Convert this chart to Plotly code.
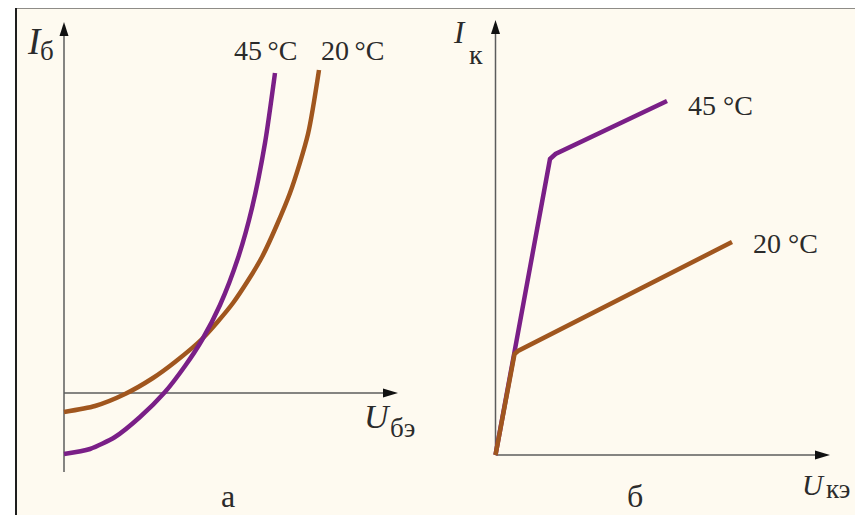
import plotly.graph_objects as go

# ---------------- data ----------------
# Panel "а": input characteristics I_б = f(U_бэ)
u_be_45 = [0, 0.26, 0.51, 0.76, 1.01, 1.21, 1.38, 1.56, 1.74, 1.88, 2.01, 2.11]
i_b_45 = [-0.61, -0.56, -0.44, -0.24, 0.01, 0.27, 0.53, 0.88, 1.35, 1.85, 2.50, 3.20]
u_be_20 = [0, 0.31, 0.61, 0.89, 1.11, 1.38, 1.69, 1.98, 2.26, 2.44, 2.55]
i_b_20 = [-0.19, -0.13, -0.01, 0.15, 0.31, 0.54, 0.90, 1.36, 2.00, 2.59, 3.23]

# Panel "б": output characteristics I_к = f(U_кэ)
u_ce_45 = [0, 0.525, 0.545, 0.60, 1.715]
i_c_45 = [0, 2.88, 2.96, 3.01, 3.54]
u_ce_20 = [0, 0.175, 0.19, 0.225, 2.365]
i_c_20 = [0, 0.97, 1.01, 1.04, 2.13]

temp_labels_a = ["45\u2009°C", "20\u2009°C"]
temp_labels_b = ["45 °C", "20 °C"]
panel_labels = ["а", "б"]

# ---------------- style ----------------
OFF = 8                      # page body margin of the html page
W, H = 863 - OFF, 515 - OFF  # figure size
S = 100.0                    # pixels per data unit
PURPLE = "#7a1f87"
BROWN = "#a0561e"
AXIS = "#5c5c5c"
TXT = "#2b2b2b"
BG = "#fefaf0"
FONT = "Liberation Serif"
LW = 4.5

# screen positions of the axis origins
OX_L, OY_L = 64, 393
OX_R, OY_R = 495.5, 455
SPLIT = 431.5


def px(x):
    return (x - OFF) / W


def py(y):
    return 1 - (y - OFF) / H


fig = go.Figure()

# left panel: brown below purple
fig.add_trace(go.Scatter(x=u_be_20, y=i_b_20, mode="lines", xaxis="x", yaxis="y",
                         line=dict(color=BROWN, width=LW, shape="spline", smoothing=0.7),
                         hoverinfo="skip"))
fig.add_trace(go.Scatter(x=u_be_45, y=i_b_45, mode="lines", xaxis="x", yaxis="y",
                         line=dict(color=PURPLE, width=LW, shape="spline", smoothing=0.7),
                         hoverinfo="skip"))
# right panel: purple below brown
fig.add_trace(go.Scatter(x=u_ce_45, y=i_c_45, mode="lines", xaxis="x2", yaxis="y2",
                         line=dict(color=PURPLE, width=LW), hoverinfo="skip"))
fig.add_trace(go.Scatter(x=u_ce_20, y=i_c_20, mode="lines", xaxis="x2", yaxis="y2",
                         line=dict(color=BROWN, width=LW), hoverinfo="skip"))

shapes = []
# background card with frame
shapes.append(dict(type="rect", xref="paper", yref="paper", x0=px(16), x1=px(860),
                   y0=-0.1, y1=py(7.5), fillcolor=BG, line=dict(color="#1e1e1e", width=2),
                   layer="below"))


def axis_pair(xr, yr, y_bottom, x_tip, y_tip):
    out = []
    out.append(dict(type="line", xref=xr, yref=yr, x0=0, x1=0, y0=y_bottom, y1=y_tip - 0.08,
                    line=dict(color=AXIS, width=1.5), layer="below"))
    out.append(dict(type="line", xref=xr, yref=yr, x0=0, x1=x_tip - 0.08, y0=0, y1=0,
                    line=dict(color=AXIS, width=1.5), layer="below"))
    out.append(dict(type="path", xref=xr, yref=yr, xsizemode="pixel", ysizemode="pixel",
                    xanchor=0, yanchor=y_tip, path="M0,0 L-4.5,-14 L4.5,-14 Z",
                    fillcolor="#111", line=dict(width=0), layer="below"))
    out.append(dict(type="path", xref=xr, yref=yr, xsizemode="pixel", ysizemode="pixel",
                    xanchor=x_tip, yanchor=0, path="M0,0 L-15,4.5 L-15,-4.5 Z",
                    fillcolor="#111", line=dict(width=0), layer="below"))
    return out


shapes += axis_pair("x", "y", -0.79, 3.34, 3.71)
shapes += axis_pair("x2", "y2", 0, 3.345, 4.35)

ann = []


def label(text, x, y, size, italic=False):
    ann.append(dict(text=(f"<i>{text}</i>" if italic else text), x=px(x), y=py(y),
                    xref="paper", yref="paper", showarrow=False,
                    font=dict(family=FONT, size=size, color=TXT),
                    xanchor="center", yanchor="middle"))


# left panel texts
label("I", 34, 41.5, 37, italic=True)
label("б", 47, 51, 27)
label(temp_labels_a[0], 265, 50.5, 28)
label(temp_labels_a[1], 352, 50.5, 28)
label("U", 377, 416.5, 34, italic=True)
label("бэ", 402, 428, 27)
label(panel_labels[0], 228, 496, 32)
# right panel texts
label("I", 459, 32.5, 31, italic=True)
label("к", 476, 54, 28)
label(temp_labels_b[0], 720, 105.5, 28)
label(temp_labels_b[1], 785, 243.5, 28)
label("U", 813, 485, 29, italic=True)
label("кэ", 838, 489, 27)
label(panel_labels[1], 635, 496, 32)

dom_split = (SPLIT - OFF) / W
fig.update_layout(
    width=W, height=H, margin=dict(l=0, r=0, t=0, b=0),
    paper_bgcolor="white", plot_bgcolor="rgba(0,0,0,0)",
    showlegend=False,
    xaxis=dict(domain=[0, dom_split], range=[(OFF - OX_L) / S, (SPLIT - OX_L) / S],
               visible=False, fixedrange=True),
    yaxis=dict(domain=[0, 1], range=[(OY_L - 515) / S, (OY_L - OFF) / S],
               visible=False, fixedrange=True),
    xaxis2=dict(domain=[dom_split, 1], range=[(SPLIT - OX_R) / S, (863 - OX_R) / S],
                visible=False, fixedrange=True, anchor="y2"),
    yaxis2=dict(domain=[0, 1], range=[(OY_R - 515) / S, (OY_R - OFF) / S],
                visible=False, fixedrange=True, anchor="x2"),
    shapes=shapes, annotations=ann,
)

fig.write_html("out.html", config={"displayModeBar": False})
